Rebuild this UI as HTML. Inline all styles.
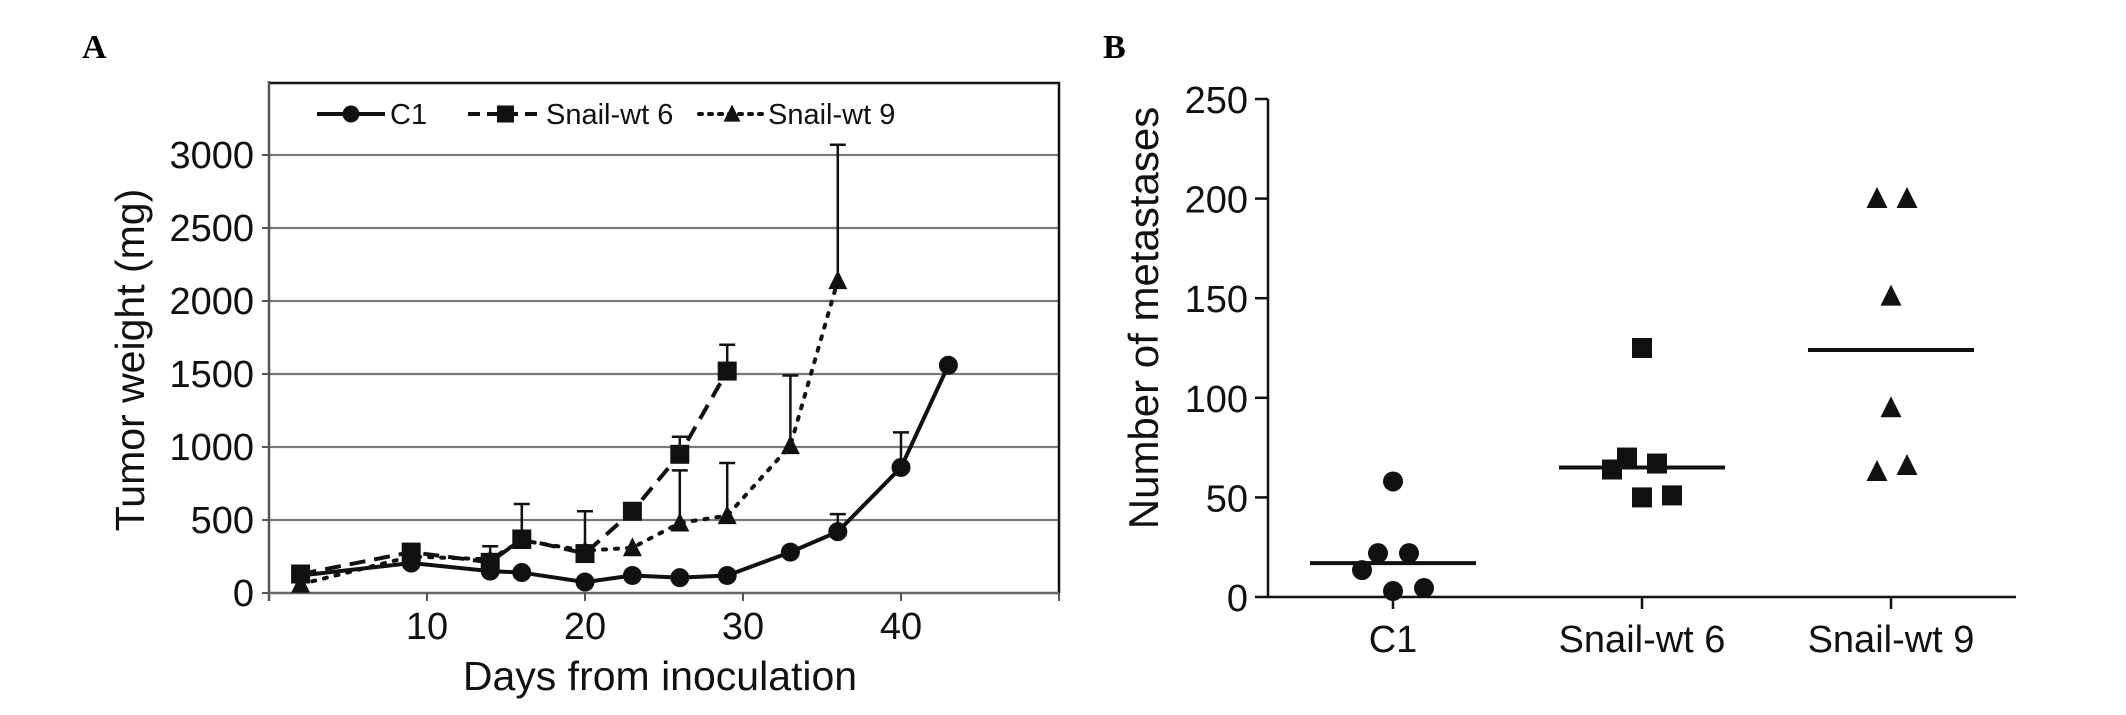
<!DOCTYPE html>
<html><head><meta charset="utf-8"><style>
html,body{margin:0;padding:0;background:#fff;}
svg{display:block;font-family:"Liberation Sans",sans-serif;}
</style></head><body>
<svg id="fig" width="2126" height="715" viewBox="0 0 2126 715" xmlns="http://www.w3.org/2000/svg">
<text x="82" y="58" font-family="Liberation Serif" font-weight="bold" font-size="34">A</text>
<text x="1103" y="58" font-family="Liberation Serif" font-weight="bold" font-size="34">B</text>
<g id="pa"></g>
<g id="pb"></g>
</svg>
<script>
// Panel A data
const daysC1 = [2, 9, 14, 16, 20, 23, 26, 29, 33, 36, 40, 43];
const valsC1 = [120, 205, 150, 140, 75, 120, 105, 120, 280, 420, 860, 1560];
const errC1 = [null, null, null, null, null, null, null, null, null, 540, 1100, null];
const daysS6 = [2, 9, 14, 16, 20, 23, 26, 29];
const valsS6 = [130, 280, 210, 370, 270, 560, 950, 1520];
const errS6 = [null, null, 320, 610, 560, null, 1070, 1700];
const daysS9 = [2, 9, 14, 16, 20, 23, 26, 29, 33, 36];
const valsS9 = [60, 250, 230, 360, 290, 310, 480, 530, 1010, 2140];
const errS9 = [null, null, null, null, null, null, 840, 890, 1490, 3070];
const yTicksA = [0, 500, 1000, 1500, 2000, 2500, 3000];
const xTicksA = [10, 20, 30, 40];
// Panel B data
const catsB = ["C1", "Snail-wt 6", "Snail-wt 9"];
const ptsC1 = [58, 22, 22, 13.5, 3, 4.5];
const ptsS6 = [125, 70, 67, 64, 50, 51];
const ptsS9 = [200, 200, 151, 95, 63, 66];
const medB = [17, 65, 124];
const yTicksB = [0, 50, 100, 150, 200, 250];

const NS = "http://www.w3.org/2000/svg";
function mk(parent, tag, attrs, text) {
  const e = document.createElementNS(NS, tag);
  for (const k in attrs) e.setAttribute(k, attrs[k]);
  if (text !== undefined) e.textContent = text;
  parent.appendChild(e);
  return e;
}
// ---------- Panel A ----------
const pa = document.getElementById('pa');
const AL = 269, AR = 1059, AT = 83, AB = 593;
const xA = d => AL + (d / 50) * (AR - AL);
const yA = v => AB - (v / 3000) * (AB - 155);
yTicksA.forEach(v => {
  if (v > 0) {
    const g = mk(pa, 'line', {x1: AL, x2: AR, y1: yA(v), y2: yA(v), stroke: '#7a7a7a', 'stroke-width': 2.2});
    
    
  }
  const t = mk(pa, 'line', {x1: AL - 7, x2: AL, y1: yA(v), y2: yA(v), stroke: '#555', 'stroke-width': 2});
  
  
  const l = mk(pa, 'text', {x: 254, y: yA(v) + 13, 'text-anchor': 'end', 'font-size': 38, fill: '#111'}, String(v));
  
  
});
const fr = mk(pa, 'polyline', {points: `${AL},${AT} ${AR},${AT} ${AR},${AB}`, fill: 'none', stroke: '#111', 'stroke-width': 2.5});


const ya = mk(pa, 'line', {x1: AL, x2: AL, y1: AT - 2, y2: AB + 8, stroke: '#555', 'stroke-width': 2.5});


const xa = mk(pa, 'line', {x1: AL, x2: AR, y1: AB, y2: AB, stroke: '#666', 'stroke-width': 2.5});


[...xTicksA, 50].forEach(d => {
  const t = mk(pa, 'line', {x1: xA(d), x2: xA(d), y1: AB, y2: AB + 8, stroke: '#555', 'stroke-width': 2});
  
  
});
xTicksA.forEach(d => {
  const l = mk(pa, 'text', {x: xA(d), y: 639, 'text-anchor': 'middle', 'font-size': 38, fill: '#111'}, String(d));
  
  
});
const yt = mk(pa, 'text', {x: 0, y: 0, transform: 'translate(144,360) rotate(-90)', 'text-anchor': 'middle', 'font-size': 41, fill: '#111'}, 'Tumor weight (mg)');


const xt = mk(pa, 'text', {x: 660, y: 690, 'text-anchor': 'middle', 'font-size': 41, fill: '#111'}, 'Days from inoculation');



function marker(parent, type, cx, cy, s) {
  let m;
  if (type === 'circle') m = mk(parent, 'circle', {cx, cy, r: s / 2, fill: '#111'});
  else if (type === 'square') m = mk(parent, 'rect', {x: cx - s / 2, y: cy - s / 2, width: s, height: s, fill: '#111'});
  else m = mk(parent, 'polygon', {points: `${cx},${cy - s * 0.55} ${cx - s / 2},${cy + s * 0.45} ${cx + s / 2},${cy + s * 0.45}`, fill: '#111'});
  return m;
}
function series(name, days, vals, errs, dash, type) {
  const g = mk(pa, 'g', {});
  
  
  days.forEach((d, i) => {
    if (errs[i] != null) {
      const e = mk(g, 'path', {d: `M${xA(d)},${yA(vals[i])}V${yA(errs[i])}M${xA(d) - 8},${yA(errs[i])}H${xA(d) + 8}`, stroke: '#111', 'stroke-width': 2.5, fill: 'none'});
      
      
    }
  });
  const pl = mk(g, 'polyline', {points: days.map((d, i) => xA(d) + ',' + yA(vals[i])).join(' '), fill: 'none', stroke: '#111', 'stroke-width': dash === 'dot' ? 4 : 4, 'stroke-dasharray': dash === 'dash' ? '16,9' : dash === 'dot' ? '3,9' : 'none', 'stroke-linecap': dash === 'dot' ? 'round' : 'butt'});
  
  
  days.forEach((d, i) => {
    const m = marker(g, type, xA(d), yA(vals[i]), 19);
    
    
  });
}
series('snail-wt-9', daysS9, valsS9, errS9, 'dot', 'triangle');
series('snail-wt-6', daysS6, valsS6, errS6, 'dash', 'square');
series('c1', daysC1, valsC1, errC1, 'solid', 'circle');

// legend
const lg = mk(pa, 'g', {});


[['C1', 317, 385, 'solid', 'circle', 390], ['Snail-wt 6', 468, 543, 'dash', 'square', 546], ['Snail-wt 9', 699, 765, 'dot', 'triangle', 768]].forEach(it => {
  const ge = mk(lg, 'g', {});
  
  
  mk(ge, 'line', {x1: it[1], x2: it[2], y1: 114, y2: 114, stroke: '#111', 'stroke-width': 4, 'stroke-dasharray': it[3] === 'dash' ? '12,7' : it[3] === 'dot' ? '3,7' : 'none', 'stroke-linecap': it[3] === 'dot' ? 'round' : 'butt'});
  marker(ge, it[4], (it[1] + it[2]) / 2, 114, 17);
  mk(ge, 'text', {x: it[5], y: 124, 'font-size': 29, fill: '#111'}, it[0]);
});

// ---------- Panel B ----------
const pb = document.getElementById('pb');
const BL = 1268, BR = 2016, BB = 597, BT = 99;
const yB = v => BB - (v / 250) * (BB - BT);
const catX = [1393, 1642, 1891];
const offs = [[0, -15, 16, -31, 0, 31], [0, -15, 15, -30, 0, 30], [-14, 16, 0, 0, -14, 16]];
const yaxB = mk(pb, 'line', {x1: BL, x2: BL, y1: BT, y2: BB + 1, stroke: '#111', 'stroke-width': 2.5});


const xaxB = mk(pb, 'line', {x1: BL, x2: BR, y1: BB, y2: BB, stroke: '#111', 'stroke-width': 2.5});


yTicksB.forEach(v => {
  const t = mk(pb, 'line', {x1: BL - 13, x2: BL, y1: yB(v), y2: yB(v), stroke: '#111', 'stroke-width': 2.5});
  
  
  const l = mk(pb, 'text', {x: 1248, y: yB(v) + 14, 'text-anchor': 'end', 'font-size': 38, fill: '#111'}, String(v));
  
  
});
catsB.forEach((c, i) => {
  const t = mk(pb, 'line', {x1: catX[i], x2: catX[i], y1: BB, y2: BB + 12, stroke: '#111', 'stroke-width': 2.5});
  
  
  const l = mk(pb, 'text', {x: catX[i], y: 652, 'text-anchor': 'middle', 'font-size': 38, fill: '#111'}, c);
  
  
});
const ytB = mk(pb, 'text', {x: 0, y: 0, transform: 'translate(1158,318) rotate(-90)', 'text-anchor': 'middle', 'font-size': 42, fill: '#111'}, 'Number of metastases');


[ptsC1, ptsS6, ptsS9].forEach((pts, i) => {
  const type = ['circle', 'square', 'triangle'][i];
  pts.forEach((v, j) => {
    const m = marker(pb, type, catX[i] + offs[i][j], yB(v), type === 'triangle' ? 21 : 20);
    
    
  });
  const ml = mk(pb, 'line', {x1: catX[i] - 83, x2: catX[i] + 83, y1: yB(medB[i]), y2: yB(medB[i]), stroke: '#111', 'stroke-width': 4});
  
  
});
</script>
</body></html>
